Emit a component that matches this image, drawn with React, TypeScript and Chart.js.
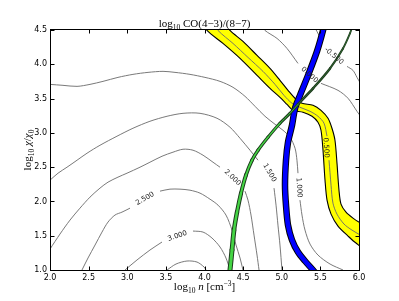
import React, { useEffect, useRef } from "react";
import { Chart, registerables } from "chart.js";

Chart.register(...registerables);

const W = 399;
const H = 301;

// tick labels
const X_TICKS = ["2.0", "2.5", "3.0", "3.5", "4.0", "4.5", "5.0", "5.5", "6.0"];
const Y_TICKS = ["1.0", "1.5", "2.0", "2.5", "3.0", "3.5", "4.0", "4.5"];

type Pt = [number, number] | null;

// contour lines of log10 CO(4-3)/(8-7), [log n, log chi]; null = label gap
const C_350: Pt[] = [[3.515, 1.0], [3.631, 1.087], [3.773, 1.131], [3.903, 1.116], [3.994, 1.044], [4.019, 1.0]];
const C_300: Pt[] = [[2.971, 1.0], [3.126, 1.146], [3.294, 1.291], [3.45, 1.408], null, [3.851, 1.568], [3.981, 1.553], [4.097, 1.466], [4.201, 1.335], [4.278, 1.175], [4.33, 1.0]];
const C_250: Pt[] = [[2.414, 1.0], [2.492, 1.175], [2.583, 1.364], [2.673, 1.553], [2.751, 1.699], [2.841, 1.801], [2.932, 1.844], [3.036, 1.902], null, [3.424, 2.15], [3.553, 2.179], [3.683, 2.179], [3.812, 2.164], [3.942, 2.121], [4.071, 2.033], [4.175, 1.946], [4.278, 1.801], [4.356, 1.582], [4.408, 1.364], [4.46, 1.175], [4.498, 1.0]];
const C_200: Pt[] = [[2.0, 1.306], [2.129, 1.524], [2.259, 1.728], [2.388, 1.902], [2.518, 2.063], [2.647, 2.194], [2.751, 2.281], [2.88, 2.354], [2.997, 2.412], [3.165, 2.499], [3.294, 2.572], [3.45, 2.659], [3.592, 2.718], [3.722, 2.761], [3.851, 2.747], [3.981, 2.674], [4.11, 2.572], [4.201, 2.499], null, [4.524, 2.15], [4.563, 2.019], [4.602, 1.801], [4.641, 1.509], [4.68, 1.218], [4.706, 1.0]];
const C_150: Pt[] = [[2.0, 2.31], [2.104, 2.412], [2.22, 2.499], [2.35, 2.601], [2.479, 2.703], [2.647, 2.819], [2.867, 2.951], [3.074, 3.067], [3.294, 3.169], [3.515, 3.242], [3.722, 3.285], [3.942, 3.285], [4.162, 3.213], [4.33, 3.082], [4.46, 2.921], [4.589, 2.747], [4.693, 2.601], null, [4.9, 2.194], [4.926, 1.946], [4.951, 1.655], [4.977, 1.364], [5.003, 1.0]];
const C_100: Pt[] = [[2.0, 3.707], [2.168, 3.693], [2.35, 3.678], [2.518, 3.707], [2.686, 3.751], [2.88, 3.809], [3.074, 3.853], [3.269, 3.882], [3.463, 3.897], [3.618, 3.882], [3.812, 3.853], [4.006, 3.809], [4.201, 3.751], [4.369, 3.664], [4.524, 3.533], [4.654, 3.387], [4.783, 3.242], [4.913, 3.125], [5.016, 3.038], [5.107, 2.936], [5.172, 2.776], [5.197, 2.601], [5.21, 2.412], null, [5.236, 2.019], [5.262, 1.801], [5.301, 1.582], [5.366, 1.378], [5.469, 1.218], [5.625, 1.087], [5.793, 1.0]];
const C_050: Pt[] = [[4.162, 4.552], [4.175, 4.493], [4.369, 4.304], [4.563, 4.1], [4.757, 3.897], [4.913, 3.707], [5.029, 3.547], [5.133, 3.431], [5.236, 3.373], [5.366, 3.314], [5.469, 3.242], [5.547, 3.14], [5.586, 2.951], null, [5.612, 2.601], [5.638, 2.237], [5.663, 1.975], [5.715, 1.815], [5.806, 1.67], [5.909, 1.582], [6.039, 1.495]];
const C_000: Pt[] = [[4.757, 4.552], [4.783, 4.493], [4.939, 4.377], [5.068, 4.231], [5.21, 4.013], null, [5.508, 3.722], [5.728, 3.62], [5.858, 3.504], [5.974, 3.314], [6.039, 3.213]];
const C_M050: Pt[] = [[5.417, 4.552], [5.456, 4.479], [5.508, 4.362], null, [5.845, 3.969], [5.922, 3.911], [5.974, 3.809], [6.026, 3.707]];

// contour labels
const LABEL_TEXT = ["3.000", "2.500", "2.000", "1.500", "1.000", "0.500", "0.000", "-0.500"];
const LABEL_N = [3.65, 3.23, 4.362, 4.841, 5.223, 5.573, 5.359, 5.676];
const LABEL_CHI = [1.495, 2.041, 2.346, 2.419, 2.201, 2.783, 3.846, 4.122];
const LABEL_ANGLE = [-19, -30, 44, 60, 86, 86, 42, 40];

// yellow band edges (observed ratio range)
const YELLOW_W: [number, number][] = [[4.006, 4.581], [4.032, 4.493], [4.239, 4.304], [4.46, 4.086], [4.68, 3.838], [4.848, 3.649], [4.977, 3.518], [5.068, 3.416], [5.146, 3.329], [5.275, 3.3], [5.392, 3.242], [5.469, 3.154], [5.508, 3.038], [5.534, 2.747], [5.56, 2.31], [5.586, 2.019], [5.638, 1.815], [5.728, 1.64], [5.858, 1.495], [5.961, 1.393], [6.091, 1.306]];
const YELLOW_E: [number, number][] = [[4.291, 4.581], [4.33, 4.493], [4.498, 4.333], [4.68, 4.13], [4.848, 3.94], [4.977, 3.766], [5.081, 3.62], [5.184, 3.489], [5.262, 3.431], [5.405, 3.402], [5.508, 3.329], [5.599, 3.213], [5.65, 3.067], [5.689, 2.892], [5.715, 2.558], [5.741, 2.164], [5.767, 1.961], [5.832, 1.844], [5.922, 1.757], [6.039, 1.67], [6.117, 1.626]];

// blue and green constraint curves
const BLUE: Pt[] = [[5.547, 4.581], [5.534, 4.493], [5.456, 4.188], [5.34, 3.838], [5.236, 3.547], [5.172, 3.358], [5.133, 3.111], [5.081, 2.863], [5.055, 2.601], [5.042, 2.237], [5.055, 1.946], [5.081, 1.655], [5.133, 1.437], [5.21, 1.262], [5.301, 1.131], [5.405, 1.0], [5.456, 0.927]];
const GREEN: Pt[] = [[4.317, 0.927], [4.33, 1.0], [4.356, 1.291], [4.382, 1.582], [4.421, 1.844], [4.473, 2.121], [4.537, 2.383], [4.615, 2.601], [4.693, 2.747], [4.822, 2.936], [4.977, 3.14], [5.107, 3.285], [5.21, 3.416], [5.405, 3.649], [5.625, 3.94], [5.793, 4.231], [5.883, 4.45], [5.922, 4.581]];

const GRAY_CONTOURS = [C_350, C_300, C_250, C_200, C_150, C_100, C_000, C_M050];

const toXY = (a: Pt[]) => a.map((p) => (p ? { x: p[0], y: p[1] } : { x: null, y: null }));

type Run = { t: string; s?: number; i?: boolean; dy?: number };
const SERIF = '"Liberation Serif", "DejaVu Serif", serif';

const TITLE_RUNS: Run[] = [{ t: "log" }, { t: "10", s: 7.5, dy: 3 }, { t: " CO(4\u22123)/(8\u22127)" }];
const XLABEL_RUNS: Run[] = [{ t: "log" }, { t: "10", s: 7.5, dy: 3 }, { t: " " }, { t: "n", i: true }, { t: " [cm" }, { t: "\u22123", s: 7.5, dy: -4.5 }, { t: "]" }];
const YLABEL_RUNS: Run[] = [{ t: "log" }, { t: "10", s: 7.5, dy: 3 }, { t: " " }, { t: "\u03c7", i: true }, { t: "/" }, { t: "\u03c7", i: true }, { t: "0", s: 7.5, dy: 3 }];

function drawRich(ctx: CanvasRenderingContext2D, runs: Run[], cx: number, cy: number, rot = 0) {
  const font = (r: Run) => `${r.i ? "italic " : ""}${r.s ?? 11}px ${SERIF}`;
  let total = 0;
  const widths = runs.map((r) => {
    ctx.font = font(r);
    const w = ctx.measureText(r.t).width;
    total += w;
    return w;
  });
  ctx.save();
  ctx.translate(cx, cy);
  ctx.rotate(rot);
  ctx.fillStyle = "#000";
  ctx.textAlign = "left";
  ctx.textBaseline = "alphabetic";
  let x = -total / 2;
  runs.forEach((r, k) => {
    ctx.font = font(r);
    ctx.fillText(r.t, x, r.dy ?? 0);
    x += widths[k];
  });
  ctx.restore();
}

const decorPlugin = {
  id: "decor",
  afterDatasetsDraw(chart: any) {
    const { ctx, chartArea: a, scales } = chart;
    const xs = scales.x;
    const ys = scales.y;
    // contour labels
    ctx.save();
    ctx.font = '7px "DejaVu Sans", sans-serif';
    ctx.fillStyle = "#222";
    ctx.textAlign = "center";
    ctx.textBaseline = "middle";
    LABEL_TEXT.forEach((t, k) => {
      ctx.save();
      ctx.translate(xs.getPixelForValue(LABEL_N[k]), ys.getPixelForValue(LABEL_CHI[k]));
      ctx.rotate((LABEL_ANGLE[k] * Math.PI) / 180);
      ctx.fillText(t, 0, 0);
      ctx.restore();
    });
    ctx.restore();
    // frame and inward ticks
    ctx.save();
    ctx.strokeStyle = "#000";
    ctx.lineWidth = 1;
    const L = Math.round(a.left) + 0.5;
    const R = Math.round(a.right) + 0.5;
    const T = Math.round(a.top) - 0.5;
    const B = Math.round(a.bottom) + 0.5;
    ctx.strokeRect(L, T, R - L, B - T);
    ctx.beginPath();
    X_TICKS.forEach((s) => {
      const px = Math.round(xs.getPixelForValue(parseFloat(s))) + 0.5;
      ctx.moveTo(px, B);
      ctx.lineTo(px, B - 4);
      ctx.moveTo(px, T);
      ctx.lineTo(px, T + 4);
    });
    Y_TICKS.forEach((s) => {
      const py = Math.round(ys.getPixelForValue(parseFloat(s))) + 0.5;
      ctx.moveTo(L, py);
      ctx.lineTo(L + 4, py);
      ctx.moveTo(R, py);
      ctx.lineTo(R - 4, py);
    });
    ctx.stroke();
    ctx.restore();
    // title and axis titles
    const cx = (a.left + a.right) / 2;
    drawRich(ctx, TITLE_RUNS, cx, a.top - 3.5);
    drawRich(ctx, XLABEL_RUNS, cx, a.bottom + 20);
    drawRich(ctx, YLABEL_RUNS, a.left - 19.5, (a.top + a.bottom) / 2, -Math.PI / 2);
  },
};

const greenOuter = (chi: number) => Math.max(1.8, Math.min(5, 1.8 + (4.3 - chi) * 1.0));

export default function App() {
  const ref = useRef<HTMLCanvasElement>(null);
  useEffect(() => {
    if (!ref.current) return;
    const base = { pointRadius: 0, tension: 0.3, clip: 0, fill: false };
    const datasets: any[] = [];
    GRAY_CONTOURS.forEach((c) => datasets.push({ ...base, data: toXY(c), borderColor: "#6a6a6a", borderWidth: 0.9, order: 20 }));
    const poly: Pt[] = [[1.5, 4.7], ...YELLOW_W, ...[...YELLOW_E].reverse(), [6.5, 4.7]];
    datasets.push({ ...base, data: toXY(poly), fill: "shape", backgroundColor: "#ffff00", borderColor: "#000", borderWidth: 1.1, order: 15 });
    datasets.push({ ...base, data: toXY(C_050), borderColor: "#6a6a6a", borderWidth: 0.9, order: 14 });
    datasets.push({ ...base, data: toXY(BLUE), borderColor: "#000", borderWidth: 6.5, order: 13 });
    datasets.push({ ...base, data: toXY(BLUE), borderColor: "#0000ff", borderWidth: 4.6, order: 12 });
    datasets.push({
      ...base,
      data: toXY(GREEN),
      borderColor: "#1c3a1c",
      borderCapStyle: "round",
      borderWidth: 3,
      segment: { borderWidth: (c: any) => greenOuter(c.p0.parsed.y) },
      order: 11,
    });
    datasets.push({
      ...base,
      data: toXY(GREEN),
      borderColor: "#44d444",
      borderCapStyle: "round",
      borderWidth: 1,
      segment: {
        borderWidth: (c: any) => Math.max(0.6, greenOuter(c.p0.parsed.y) - 2),
        borderColor: (c: any) => (c.p0.parsed.y > 3.3 ? "#3a7a3a" : "#44d444"),
      },
      order: 10,
    });

    const tickFont = { family: '"DejaVu Sans", sans-serif', size: 8 };
    const chart = new Chart(ref.current, {
      type: "line",
      data: { datasets },
      plugins: [decorPlugin],
      options: {
        responsive: false,
        devicePixelRatio: 1,
        animation: false,
        events: [],
        layout: { padding: { left: 0, right: 40, top: 30, bottom: 0 } },
        elements: { line: { capBezierPoints: false } },
        plugins: { legend: { display: false }, tooltip: { enabled: false }, title: { display: false } },
        scales: {
          x: {
            type: "linear",
            min: 2,
            max: 6,
            afterBuildTicks: (s: any) => {
              s.ticks = X_TICKS.map((t) => ({ value: parseFloat(t) }));
            },
            afterFit: (s: any) => {
              s.height = 31;
            },
            grid: { display: false, drawTicks: false },
            border: { display: false },
            ticks: { autoSkip: false, maxRotation: 0, padding: 3, color: "#000", font: tickFont, callback: (_v: any, i: number) => X_TICKS[i] },
          },
          y: {
            type: "linear",
            min: 1,
            max: 4.5,
            afterBuildTicks: (s: any) => {
              s.ticks = Y_TICKS.map((t) => ({ value: parseFloat(t) }));
            },
            afterFit: (s: any) => {
              s.width = 50;
            },
            grid: { display: false, drawTicks: false },
            border: { display: false },
            ticks: { autoSkip: false, padding: 3, color: "#000", font: tickFont, callback: (_v: any, i: number) => Y_TICKS[i] },
          },
        },
      } as any,
    });
    return () => chart.destroy();
  }, []);
  return (
    <div style={{ position: "absolute", left: 0, top: 0, width: W, height: H, background: "#fff" }}>
      <canvas ref={ref} width={W} height={H} style={{ display: "block", width: W, height: H }} />
    </div>
  );
}
